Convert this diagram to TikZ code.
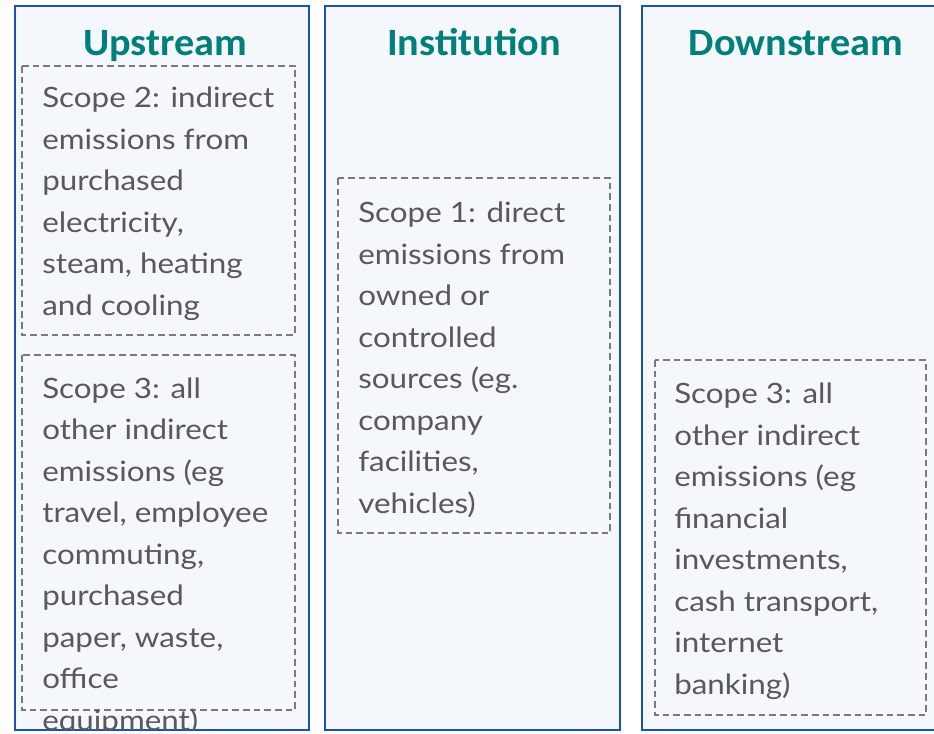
\documentclass[tikz,border=0pt]{standalone}
\usepackage{fontspec}
\setmainfont{Lato}[FakeStretch=1.12]
\newfontfamily\headfont{Carlito}[FakeStretch=1.04]
\definecolor{colborder}{HTML}{1C50B4}
\definecolor{colfill}{HTML}{F4F7FB}
\definecolor{headteal}{HTML}{007F7B}
\definecolor{textgray}{HTML}{595959}
\definecolor{dashgray}{HTML}{7A7A7A}
\begin{document}
\begin{tikzpicture}[x=0.75pt,y=-0.75pt,
  column/.style={draw=colborder, line width=1.6pt, fill=colfill},
  scopebox/.style={draw=dashgray, dash pattern=on 5pt off 3pt, line width=1.1pt},
  scopetext/.style={anchor=base west, inner sep=0pt, align=left, text=textgray,
    font=\fontsize{21}{31.1}\selectfont},
  header/.style={anchor=base, inner sep=0pt, text=headteal,
    font=\headfont\bfseries\fontsize{29}{30}\selectfont}]
\useasboundingbox (0,0) rectangle (934,733);
\clip (0,0) rectangle (934,733);

% the three columns
\draw[column] (15,6) rectangle (309,730);
\draw[column] (325,6) rectangle (620,730);
\draw[column] (642,6) rectangle (950,730);

% column headings
\node[header] (up)   at (165,55) {Upstream};
\node[header] (inst) at (474,55) {Institution};
\node[header] (down) at (796,55) {Downstream};

% dashed scope boxes
\draw[scopebox] (22,66) rectangle (295,335);
\draw[scopebox] (22,355) rectangle (295,710);
\draw[scopebox] (338,178) rectangle (610,533);
\draw[scopebox] (655,360) rectangle (926,715);

% scope descriptions (each placed by the baseline of its last line)
\begin{scope}
  \clip (15,6) rectangle (309,730);
  \node[scopetext] (s2) at (42,315) {Scope 2: indirect\\emissions from\\purchased\\electricity,\\steam, heating\\and cooling};
  \node[scopetext] (s3up) at (42,730) {Scope 3: all\\other indirect\\emissions (eg\\travel, employee\\commuting,\\purchased\\paper, waste,\\office\\equipment)};
\end{scope}
\node[scopetext] (s1) at (358,513) {Scope 1: direct\\emissions from\\owned or\\controlled\\sources (eg.\\company\\facilities,\\vehicles)};
\node[scopetext] (s3down) at (674,694) {Scope 3: all\\other indirect\\emissions (eg\\financial\\investments,\\cash transport,\\internet\\banking)};
\end{tikzpicture}
\end{document}
